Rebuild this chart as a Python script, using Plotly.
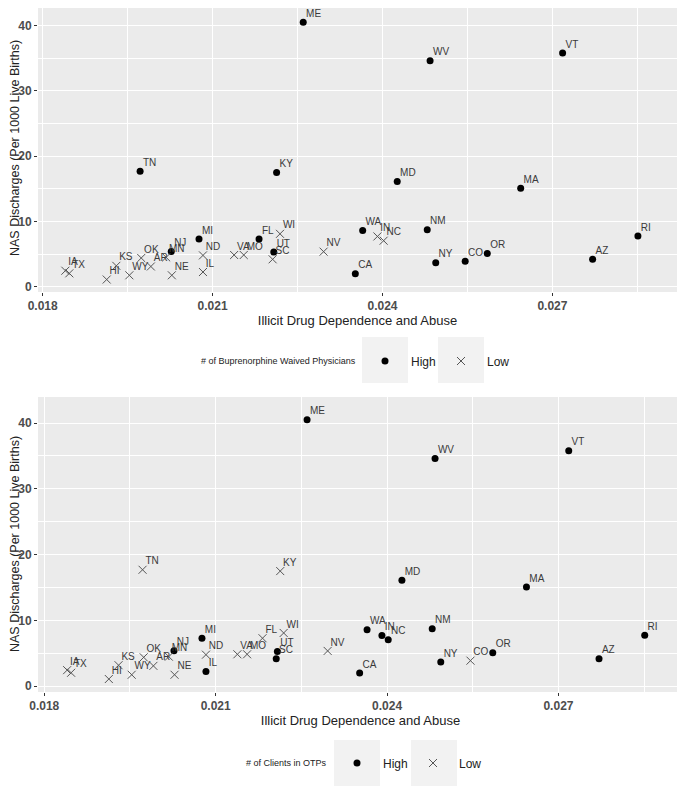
import plotly.graph_objects as go

W, H = 685, 786
O = 8  # the page body margin moves the figure 8px right and down

states = ["ME", "TN", "KY", "MI", "FL", "WI", "NJ", "MN", "HI", "WY", "AR", "KS",
          "OK", "IA", "TX", "NE", "IL", "ND", "VA", "MO", "UT", "SC", "NV", "WV",
          "VT", "MD", "MA", "WA", "IN", "NC", "NM", "RI", "NY", "CO", "OR", "AZ", "CA"]
drug_abuse = [0.0226, 0.01972, 0.02213, 0.02076, 0.02182, 0.02219, 0.02027, 0.02018,
              0.01913, 0.01953, 0.01991, 0.0193, 0.01974, 0.0184, 0.01847, 0.02028,
              0.02083, 0.02083, 0.02138, 0.02155, 0.02208, 0.02206, 0.02296, 0.02484,
              0.02718, 0.02426, 0.02644, 0.02365, 0.02391, 0.02402, 0.02479, 0.02851,
              0.02494, 0.02546, 0.02585, 0.02771, 0.02352]
nas_rate = [40.5, 17.7, 17.5, 7.3, 7.3, 8.1, 5.4, 4.5, 1.1, 1.75, 3.1, 3.2,
            4.4, 2.45, 2.05, 1.75, 2.25, 4.8, 4.86, 4.86, 5.3, 4.2, 5.37, 34.6,
            35.8, 16.1, 15.1, 8.6, 7.7, 7.05, 8.74, 7.77, 3.68, 3.89, 5.1, 4.2, 2.0]
bup_group = ["High", "High", "High", "High", "High", "Low", "High", "Low", "Low", "Low", "Low", "Low",
             "Low", "Low", "Low", "Low", "Low", "Low", "Low", "Low", "High", "Low", "Low", "High",
             "High", "High", "High", "High", "Low", "Low", "High", "High", "High", "High", "High", "High", "High"]
otp_group = ["High", "Low", "Low", "High", "Low", "Low", "High", "Low", "Low", "Low", "Low", "Low",
             "Low", "Low", "Low", "Low", "High", "Low", "Low", "Low", "High", "High", "Low", "High",
             "High", "High", "High", "High", "High", "High", "High", "High", "High", "Low", "High", "High", "High"]

FONT = "Liberation Sans, Arial, sans-serif"
styles = {
    "High": dict(symbol="circle", size=7, color="black"),
    "Low": dict(symbol="x-thin-open", size=8, color="#555555", line=dict(width=1, color="#555555")),
}

fig = go.Figure()


def add_panel(groups, xa, ya, legend):
    for g in ["High", "Low"]:
        idx = [i for i, v in enumerate(groups) if v == g]
        fig.add_trace(go.Scatter(
            x=[drug_abuse[i] for i in idx], y=[nas_rate[i] for i in idx],
            mode="markers", name=g, marker=styles[g],
            xaxis=xa, yaxis=ya, legend=legend, cliponaxis=False,
        ))
    # state labels, nudged up and right of each point
    fig.add_trace(go.Scatter(
        x=drug_abuse, y=nas_rate, text=states, mode="markers+text", textposition="top right",
        marker=dict(size=3, opacity=0), textfont=dict(family=FONT, size=10, color="#3a3a3a"),
        xaxis=xa, yaxis=ya, showlegend=False, cliponaxis=False, hoverinfo="skip",
    ))


add_panel(bup_group, "x", "y", "legend")
add_panel(otp_group, "x2", "y2", "legend2")

axis_common = dict(
    showgrid=True, gridcolor="white", gridwidth=1.1, zeroline=False,
    ticks="outside", ticklen=3, tickcolor="#333333", automargin=False,
    tickfont=dict(family=FONT, size=12, color="#4d4d4d", weight="bold"),
    showline=False,
)
xcommon = dict(axis_common, tickvals=[0.018, 0.021, 0.024, 0.027],
               ticktext=["0.018", "0.021", "0.024", "0.027"],
               minor=dict(tickvals=[0.0195, 0.0225, 0.0255, 0.0285], showgrid=True,
                          gridcolor="white", gridwidth=0.5, ticks=""),
               title=dict(text="Illicit Drug Dependence and Abuse",
                          font=dict(family=FONT, size=13, color="#222222"), standoff=2))
ycommon = dict(axis_common, tickvals=[0, 10, 20, 30, 40],
               minor=dict(tickvals=[5, 15, 25, 35], showgrid=True,
                          gridcolor="white", gridwidth=0.5, ticks=""))

legend_common = dict(orientation="h", xanchor="left", yanchor="middle", itemwidth=42, entrywidth=19,
                     font=dict(family=FONT, size=12, color="#222222"), bgcolor="rgba(0,0,0,0)")


def px_x(p):
    return (p - O) / W


def px_y(p):
    return 1 - (p - O) / H


fig.update_layout(
    width=W, height=H, margin=dict(l=0, r=0, t=0, b=0),
    paper_bgcolor="white", plot_bgcolor="#ebebeb",
    showlegend=True,
    xaxis=dict(xcommon, domain=[px_x(38), px_x(677)], range=[0.017917, 0.0292], anchor="y"),
    yaxis=dict(ycommon, domain=[px_y(292), 1], range=[-0.81, 42.7], anchor="x"),
    xaxis2=dict(xcommon, domain=[px_x(38), px_x(683)], range=[0.01789, 0.02918], anchor="y2"),
    yaxis2=dict(ycommon, domain=[px_y(692), px_y(397)], range=[-0.87, 43.95], anchor="x2"),
    legend=dict(legend_common, x=px_x(359), y=px_y(361)),
    legend2=dict(legend_common, x=px_x(331), y=px_y(763)),
)

# y axis titles
for yc in [148, 544]:
    fig.add_annotation(text="NAS Discharges (Per 1000 Live Births)", xref="paper", yref="paper",
                       x=px_x(15), y=px_y(yc), textangle=-90, showarrow=False,
                       xanchor="center", yanchor="middle",
                       font=dict(family=FONT, size=12.5, color="#222222"))

# legend titles, placed left of the keys
for txt, xr, yc in [("# of Buprenorphine Waived Physicians", 358, 361), ("# of Clients in OTPs", 329, 763)]:
    fig.add_annotation(text=txt, xref="paper", yref="paper", x=px_x(xr), y=px_y(yc),
                       xanchor="right", yanchor="middle", showarrow=False,
                       font=dict(family=FONT, size=9, color="#222222"))

# grey legend key backgrounds, centred on the key symbols
for xc, yc in [(385, 360), (461, 360), (357, 763), (434, 763)]:
    fig.add_shape(type="rect", xref="paper", yref="paper",
                  x0=px_x(xc - 23), x1=px_x(xc + 23), y0=px_y(yc - 23), y1=px_y(yc + 23),
                  fillcolor="#f2f2f2", line=dict(width=0), layer="below")

fig.write_html("out.html")
